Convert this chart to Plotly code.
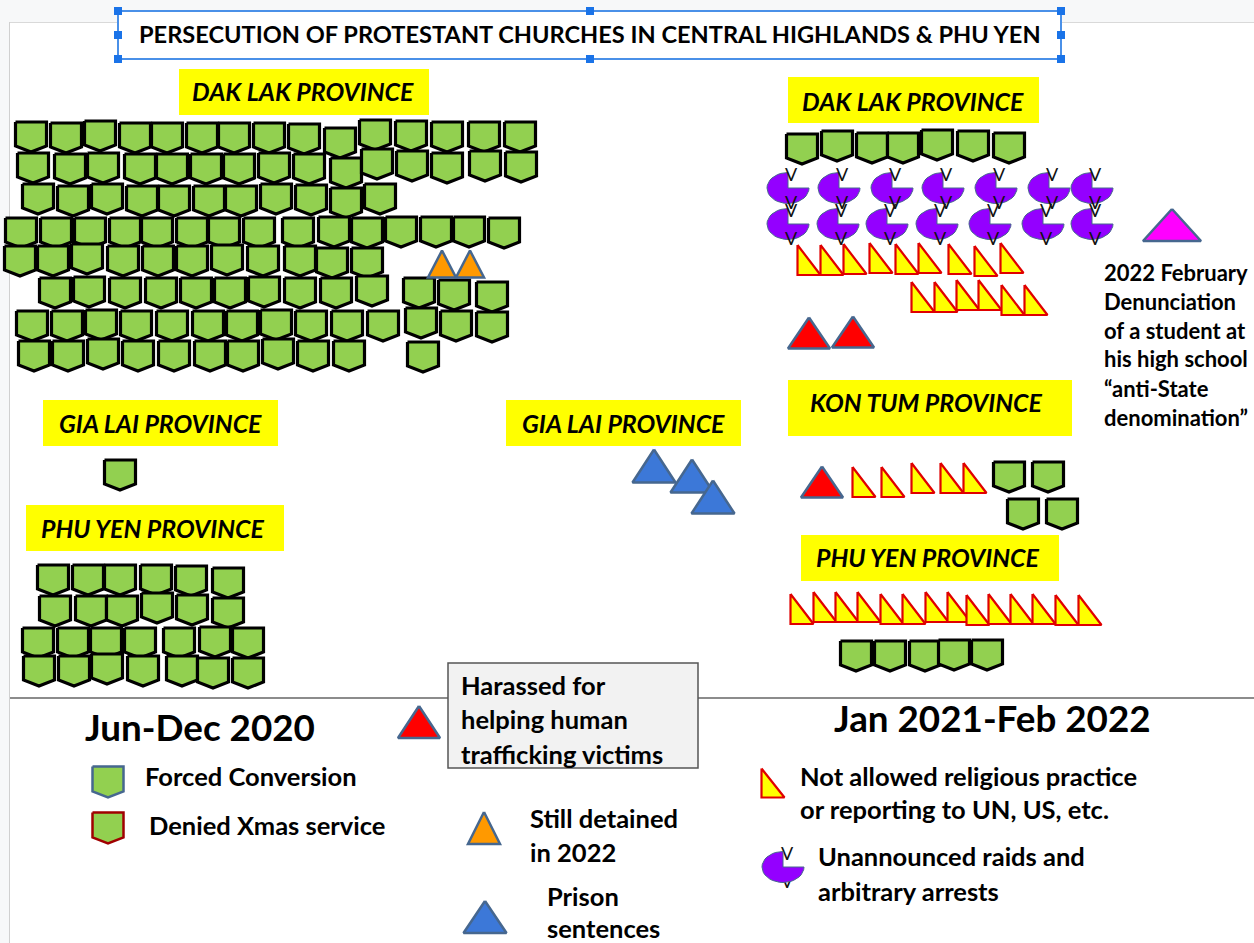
import math
import plotly.graph_objects as go

# ---- pictogram marks (one entry per icon) ----
dak_2020_x = [31,66,100,135,167,202,234,269,304,340,375,411,447,484,520,
              33,70,103,140,172,206,239,274,309,346,377,412,447,485,521,
              38,73,107,142,174,209,241,276,311,346,380,
              21,56,90,125,157,192,224,259,298,334,367,401,436,469,504,
              20,53,87,123,158,192,227,263,300,332,367,
              55,89,125,161,196,230,264,300,336,372,419,454,492,
              32,67,101,136,172,208,242,276,311,347,383,421,456,492,
              34,68,103,138,174,210,243,278,313,349,423]
dak_2020_y = [137,138,136,138,138,138,138,138,139,143,135,136,137,137,137,
              168,169,168,169,169,169,169,168,169,173,164,166,168,166,167,
              199,201,199,201,201,201,201,199,200,203,199,
              233,233,233,233,233,233,233,233,233,232,233,232,232,232,233,
              261,261,259,261,261,261,260,261,261,263,263,
              293,292,293,293,293,293,292,293,293,291,293,295,297,
              326,326,325,326,326,326,326,325,326,326,326,323,326,327,
              356,356,354,356,356,356,356,354,356,356,357]
gia_2020_x = [120]
gia_2020_y = [475]
phu_2020_x = [53,88,120,156,191,228, 55,91,122,157,192,228,
              38,73,106,140,179,215,248, 39,74,107,143,182,213,248]
phu_2020_y = [580,580,580,580,581,583, 611,611,611,608,610,613,
              643,643,643,643,643,642,643, 671,671,669,671,671,673,673]
shield_later_x = [802,837,872,903,937,973,1009, 1009,1048,1023,1062, 856,890,925,954,987]
shield_later_y = [149,146,148,148,145,146,148, 477,477,514,514, 656,656,656,655,655]

raids_x = [788,839,892,943,996,1049,1092, 788,838,887,937,990,1043,1092]
raids_y = [188,188,188,188,188,188,188, 224,224,224,224,224,224,224]

denied_x = [809,832,855,881,907,930,960,986,1012, 923,946,968,990,1013,1036,
            864,893,923,952,975,
            802,825,847,869,892,914,937,959,978,1000,1022,1044,1067,1090]
denied_y = [260,260,259,258,259,258,259,261,258, 297,297,295,295,300,300,
            482,482,478,478,478,
            609,607,607,607,609,609,607,607,610,609,609,609,610,610]

orange_x = [442,470]
orange_y = [264,264]
red_x = [809,853,822]
red_y = [333,332,482]
blue_x = [654,692,713]
blue_y = [466,476,497]
magenta_x = [1172]
magenta_y = [225]

# ---- texts ----
title_text = "PERSECUTION OF PROTESTANT CHURCHES IN CENTRAL HIGHLANDS & PHU YEN"
province_names = ["DAK LAK PROVINCE","GIA LAI PROVINCE","PHU YEN PROVINCE",
                  "GIA LAI PROVINCE","DAK LAK PROVINCE","KON TUM PROVINCE","PHU YEN PROVINCE"]
province_box = [(179,429,69,115),(43,278,400,446),(26,284,505,551),
                (506,741,400,446),(788,1039,77,123),(788,1072,380,436),(801,1059,535,581)]
province_text_xy = [(303,91),(160,423),(152,528),(623,423),(913,101),(926,402),(927,557)]
heading_texts = [("Jun-Dec 2020",200,727),("Jan 2021-Feb 2022",992,718)]
note_texts = [("Forced Conversion",143,776),("Denied Xmas service",147,825),
              ("Harassed for",459,685),("helping human",459,719),("trafficking victims",459,754),
              ("Still detained",528,818),("in 2022",528,852),
              ("Prison",545,896),("sentences",545,928),
              ("Not allowed religious practice",798,776),("or reporting to UN, US, etc.",798,809),
              ("Unannounced raids and",816,856),("arbitrary arrests",816,891)]
side_note = [("2022 February",1102,272),("Denunciation",1102,301),("of a student at",1102,330),
             ("his high school",1102,358),("\u201canti-State",1102,388),("denomination\u201d",1102,417)]

GREEN, BLACK = "#92d050", "#000000"
SLATE = "#46678f"
FONT = "Lato"

fig = go.Figure()

def poly(px, py, fill, line, lw):
    fig.add_trace(go.Scatter(x=px + px[:1], y=py + py[:1], mode="lines", fill="toself",
                             fillcolor=fill, line=dict(color=line, width=lw),
                             hoverinfo="skip", showlegend=False))

def shield(cx, cy, line=BLACK, lw=3.2, w=31, h=30):
    poly([cx-w/2, cx+w/2, cx+w/2, cx, cx-w/2],
         [cy-h/2, cy-h/2, cy+0.3*h, cy+h/2, cy+0.3*h], GREEN, line, lw)

def tri(cx, cy, w, h, fill, line=SLATE, lw=2.5):
    poly([cx, cx+w/2, cx-w/2], [cy-h/2, cy+h/2, cy+h/2], fill, line, lw)

def right_tri(cx, cy, w=23, h=30):
    poly([cx-w/2, cx+w/2, cx-w/2], [cy-h/2, cy+h/2, cy+h/2], "#ffff00", "#e00000", 2.2)

def pac(cx, cy, rx=21, ry=15.5):
    a = [math.radians(i) for i in range(0, 271, 10)]
    poly([cx] + [cx + rx*math.cos(t) for t in a], [cy] + [cy + ry*math.sin(t) for t in a],
         "#9400ff", SLATE, 1)

for xs, ys in [(dak_2020_x, dak_2020_y), (gia_2020_x, gia_2020_y), (phu_2020_x, phu_2020_y),
               (shield_later_x, shield_later_y)]:
    for x, y in zip(xs, ys):
        shield(x, y)
for x, y in zip(denied_x, denied_y):
    right_tri(x, y)
for x, y in zip(raids_x, raids_y):
    pac(x, y)
fig.add_trace(go.Scatter(
    x=[x+3 for x in raids_x]*2 + [787, 787],
    y=[y-12 for y in raids_y] + [y+16 for y in raids_y] + [855, 883],
    mode="text", text=["V"]*(2*len(raids_x)+2), textposition="middle center",
    textfont=dict(family=FONT, size=18, color="#111111"), hoverinfo="skip", showlegend=False))
for x, y in zip(orange_x, orange_y):
    tri(x, y, 28, 27, "#ff9900")
for x, y in zip(red_x, red_y):
    tri(x, y, 42, 31, "#ff0000")
for x, y in zip(blue_x, blue_y):
    tri(x, y, 43, 33, "#3c78d8")
for x, y in zip(magenta_x, magenta_y):
    tri(x, y, 58, 32, "#ff00ff")

# legend keys
shield(108, 782, SLATE, 2.5, 31, 31)
shield(108, 828, "#a00000", 2.5, 31, 31)
tri(419, 722, 42, 32, "#ff0000")
tri(484, 828, 32, 32, "#ff9900")
tri(485, 917, 43, 32, "#3c78d8")
right_tri(773, 783, 23, 29)
pac(783, 867, 21, 15.5)

shapes = [
    dict(type="rect", x0=0, x1=1254, y0=0, y1=22, fillcolor="#f7f8f9", line_width=0, layer="below"),
    dict(type="rect", x0=0, x1=9, y0=0, y1=943, fillcolor="#f7f8f9", line_width=0, layer="below"),
    dict(type="line", x0=9, x1=1254, y0=22.5, y1=22.5, line=dict(color="#d9d9d9", width=1), layer="below"),
    dict(type="line", x0=9.5, x1=9.5, y0=22, y1=943, line=dict(color="#d0d0d0", width=1), layer="below"),
    dict(type="line", x0=10, x1=1254, y0=698, y1=698, line=dict(color="#8c8c8c", width=2), layer="below"),
    dict(type="rect", x0=118, x1=1061, y0=11, y1=59, line=dict(color="#4a90e8", width=2), fillcolor="#ffffff", layer="below"),
]
for x0, x1, y0, y1 in province_box:
    shapes.append(dict(type="rect", x0=x0, x1=x1, y0=y0, y1=y1, fillcolor="#ffff00", line_width=0, layer="below"))
for hx, hy in [(118,11),(590,11),(1061,11),(118,35),(1061,35),(118,59),(590,59),(1061,59)]:
    shapes.append(dict(type="rect", x0=hx-4, x1=hx+4, y0=hy-4, y1=hy+4, fillcolor="#1a73e8", line_width=0))
shapes.append(dict(type="rect", x0=448, x1=698, y0=663, y1=768, fillcolor="#f2f2f2",
                   line=dict(color="#555555", width=1.5)))

ann = [dict(x=590, y=34, text=title_text, xanchor="center", yanchor="middle", showarrow=False,
            font=dict(family=FONT, size=23.6, weight=700, color="#000000"))]
for name, (tx, ty) in zip(province_names, province_text_xy):
    ann.append(dict(x=tx, y=ty, text=name, xanchor="center", yanchor="middle", showarrow=False,
                    font=dict(family=FONT, size=24.9, weight=700, style="italic", color="#000000")))
for t, x, y in heading_texts:
    ann.append(dict(x=x, y=y, text=t, xanchor="center", yanchor="middle", showarrow=False,
                    font=dict(family=FONT, size=36.8, weight=700, color="#000000")))
for t, x, y in note_texts:
    ann.append(dict(x=x, y=y, text=t, xanchor="left", yanchor="middle", showarrow=False,
                    font=dict(family=FONT, size=25.5, weight=700, color="#000000")))
for t, x, y in side_note:
    ann.append(dict(x=x, y=y, text=t, xanchor="left", yanchor="middle", showarrow=False,
                    font=dict(family=FONT, size=22, weight=700, color="#000000")))

fig.update_layout(
    width=1254, height=943, margin=dict(l=0, r=0, t=0, b=0, pad=0),
    paper_bgcolor="#ffffff", plot_bgcolor="#ffffff", showlegend=False,
    xaxis=dict(range=[0,1254], visible=False, fixedrange=True),
    yaxis=dict(range=[943,0], visible=False, fixedrange=True),
    shapes=shapes, annotations=ann,
)
fig.write_html("out.html", config={"displayModeBar": False},
               post_script="document.body.style.margin='0';document.body.style.overflow='hidden';")
